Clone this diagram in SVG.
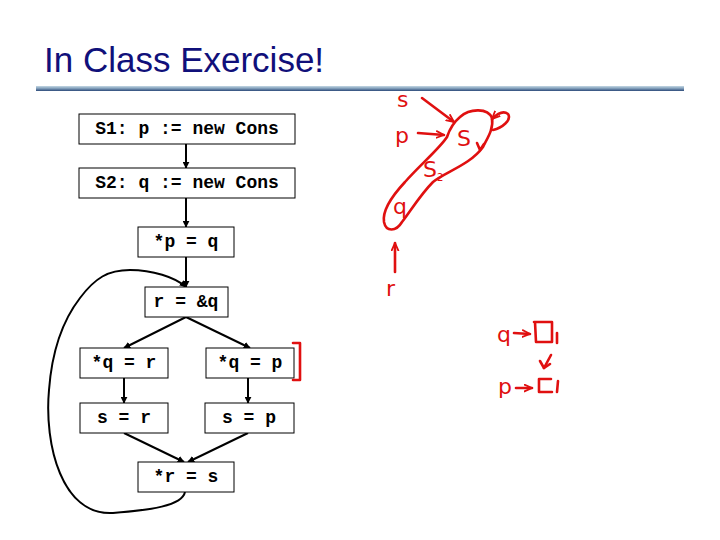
<svg xmlns="http://www.w3.org/2000/svg" width="720" height="540" viewBox="0 0 720 540">
<defs>
<linearGradient id="bar" x1="0" y1="0" x2="0" y2="1">
<stop offset="0" stop-color="#c4d8e4"/>
<stop offset="0.5" stop-color="#7f9cb8"/>
<stop offset="1" stop-color="#2c4a7a"/>
</linearGradient>
<marker id="ah" viewBox="0 0 10 10" refX="9" refY="5" markerWidth="7" markerHeight="7" orient="auto" markerUnits="userSpaceOnUse">
<path d="M0,0 L10,5 L0,10 z" fill="#000"/>
</marker>
<marker id="rh" viewBox="0 0 10 10" refX="9" refY="5" markerWidth="9" markerHeight="9" orient="auto" markerUnits="userSpaceOnUse">
<path d="M0,1 L9,5 L0,9" fill="none" stroke="#e01010" stroke-width="2"/>
</marker>
</defs>
<style>
.box{fill:#fff;stroke:#000;stroke-width:1}
.code{font-family:"Liberation Mono","Courier New",monospace;font-weight:bold;font-size:18px;fill:#000;text-anchor:middle}
.edge{fill:none;stroke:#000;stroke-width:2;marker-end:url(#ah)}
.red{fill:none;stroke:#e01010;stroke-width:2.6;stroke-linecap:round;stroke-linejoin:round}
.hw{font-family:"DejaVu Sans","Liberation Sans",sans-serif;fill:#e01010;font-size:22px}
</style>
<rect width="720" height="540" fill="#fff"/>
<text x="44" y="72" font-family="Liberation Sans, Arial, sans-serif" font-size="35" fill="#10107a">In Class Exercise!</text>
<rect x="36" y="86" width="648" height="5" fill="url(#bar)"/>

<g id="connectors">
<line class="edge" x1="186" y1="144" x2="186" y2="168"/>
<line class="edge" x1="186" y1="198" x2="186" y2="227"/>
<line class="edge" x1="186" y1="257" x2="186" y2="287"/>
<line class="edge" x1="186" y1="317" x2="124" y2="348"/>
<line class="edge" x1="186" y1="317" x2="250" y2="348"/>
<line class="edge" x1="124" y1="378" x2="124" y2="403"/>
<line class="edge" x1="248" y1="378" x2="248" y2="403"/>
<line class="edge" x1="124" y1="433" x2="184" y2="462"/>
<line class="edge" x1="248" y1="433" x2="188" y2="462"/>
<path class="edge" d="M185,492 C182,506 150,510 113,513 C62,516 44,445 49,390 C52,350 63,320 80,298 C95,278 108,270 130,270 C152,270 175,277 186,287"/>
</g>

<g id="s1"><rect class="box" x="79" y="114" width="216" height="30"/><text class="code" x="187" y="134">S1: p := new Cons</text></g>
<g id="s2"><rect class="box" x="79" y="168" width="216" height="30"/><text class="code" x="187" y="188">S2: q := new Cons</text></g>
<g id="pq"><rect class="box" x="138" y="227" width="96" height="30"/><text class="code" x="186" y="247">*p = q</text></g>
<g id="rq"><rect class="box" x="145" y="287" width="83" height="30"/><text class="code" x="186" y="307">r = &amp;q</text></g>
<g id="qr"><rect class="box" x="80" y="348" width="88" height="30"/><text class="code" x="124" y="368">*q = r</text></g>
<g id="qp"><rect class="box" x="206" y="348" width="88" height="30"/><text class="code" x="250" y="368">*q = p</text></g>
<g id="sr"><rect class="box" x="80" y="403" width="88" height="30"/><text class="code" x="124" y="423">s = r</text></g>
<g id="sp"><rect class="box" x="205" y="403" width="89" height="30"/><text class="code" x="249" y="423">s = p</text></g>
<g id="rs"><rect class="box" x="138" y="462" width="96" height="30"/><text class="code" x="186" y="482">*r = s</text></g>

<g id="annotations">
<path class="red" d="M293,343 L300,343 L300,380 L293,380"/>
<text class="hw" x="397" y="107">s</text>
<path class="red" d="M422,98 L454,122" marker-end="url(#rh)"/>
<text class="hw" x="395" y="143" font-size="24">p</text>
<path class="red" d="M418,133 L444,135" marker-end="url(#rh)"/>
<path class="red" d="M460,117 C470,108 488,108 492,118 C494,130 486,140 483,147 C470,165 445,172 433,182 C420,195 410,212 402,222 C396,232 386,232 384,222 C382,210 392,196 405,182 C420,165 440,148 447,137 C450,128 454,122 460,117 Z"/>
<text class="hw" x="457" y="146" font-size="24">S</text>
<path class="red" d="M477,143 L480,150 L484,144"/>
<path class="red" d="M493,130 C502,128 512,120 508,114 C503,110 496,115 492,119" marker-end="url(#rh)"/>
<text class="hw" x="423" y="177" font-size="17">S<tspan font-size="10" dy="4">2</tspan></text>
<text class="hw" x="393" y="214" font-size="20">q</text>
<path class="red" d="M395,272 L395,243" marker-end="url(#rh)"/>
<text class="hw" x="386" y="296" font-size="20">r</text>

<text class="hw" x="497" y="342" font-size="24">q</text>
<path class="red" d="M514,333 L530,334" marker-end="url(#rh)"/>
<path class="red" d="M534,322 L552,322 L552,342 L536,342 L535,322"/>
<path class="red" d="M557,333 L557,343"/>
<path class="red" d="M551,355 L544,368"/>
<path class="red" d="M540,361 L544,368 L550,364"/>
<text class="hw" x="498" y="394" font-size="22">p</text>
<path class="red" d="M516,388 L532,388" marker-end="url(#rh)"/>
<path class="red" d="M551,379 L539,379 L539,392 L552,392"/>
<path class="red" d="M558,381 L557,392"/>
</g>
</svg>
